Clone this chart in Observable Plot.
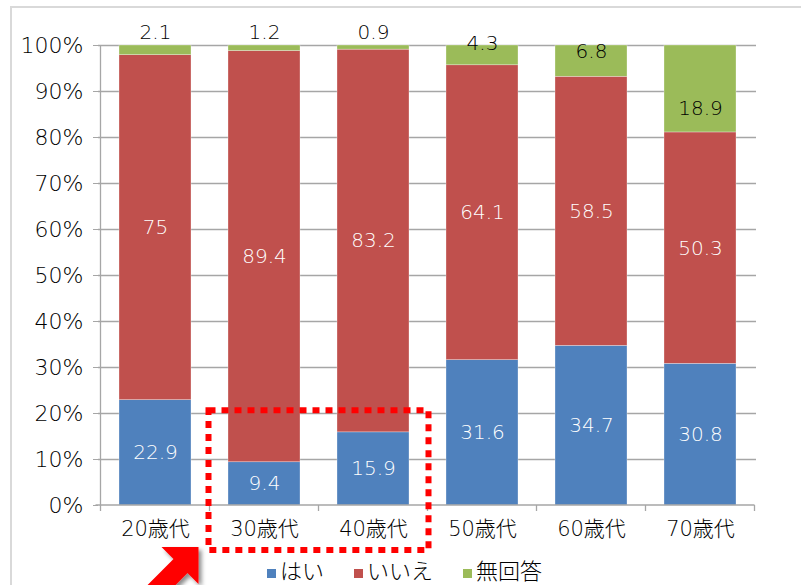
<!DOCTYPE html>
<html>
<head>
<meta charset="utf-8">
<script src="https://cdn.jsdelivr.net/npm/d3@7"></script>
<script src="https://cdn.jsdelivr.net/npm/@observablehq/plot@0.6"></script>
<style>
  body { margin: 0; background: #fff; }
  #wrap { position: relative; width: 801px; height: 585px; overflow: hidden; font-family: "DejaVu Sans", "Noto Sans CJK JP", sans-serif; font-weight: 300; }
  #frame { position: absolute; left: 10px; top: 6px; width: 820px; height: 620px; border-top: 2px solid #d9d9d9; border-left: 2px solid #d9d9d9; pointer-events: none; }
  #legend { position: absolute; left: 4px; width: 801px; top: 553px; text-align: center; font-size: 22px; color: #000; white-space: nowrap; }
  #legend span.item { display: inline-block; margin: 0 15px; }
  #legend span.sw { display: inline-block; width: 9px; height: 9px; margin-right: 4px; vertical-align: 1px; }
  #chart { position: absolute; left: 0; top: 0; }
  #chart svg text { font-weight: 300; }
</style>
</head>
<body>
<div id="wrap">
  <div id="frame"></div>
  <div id="chart"></div>
  <div id="legend"></div>
</div>
<script>
const categories = ["20歳代", "30歳代", "40歳代", "50歳代", "60歳代", "70歳代"];
const hai = [22.9, 9.4, 15.9, 31.6, 34.7, 30.8];
const iie = [75, 89.4, 83.2, 64.1, 58.5, 50.3];
const mukaitou = [2.1, 1.2, 0.9, 4.3, 6.8, 18.9];
const seriesNames = ["はい", "いいえ", "無回答"];
const seriesColors = ["#4F81BD", "#C0504D", "#9BBB59"];
const yTicks = [0, 10, 20, 30, 40, 50, 60, 70, 80, 90, 100];

const seriesValues = [hai, iie, mukaitou];
const rows = [];
categories.forEach((cat, i) => {
  let base = 0;
  seriesValues.forEach((vals, s) => {
    const v = vals[i];
    rows.push({cat, series: seriesNames[s], value: v, s, y1: base, y2: base + v});
    base += v;
  });
});

function labelY(d) {
  if (d.s < 2) return (d.y1 + d.y2) / 2;
  if (d.value < 3) return 102.8;
  if (d.value < 5) return 100.4;
  if (d.value < 10) return 100 - d.value * 0.2;
  return 100 - d.value * 0.72;
}

const FONT = '"DejaVu Sans", "Noto Sans CJK JP", sans-serif';

const plot = Plot.plot({
  width: 801,
  height: 585,
  marginLeft: 98,
  marginRight: 45,
  marginTop: 45,
  marginBottom: 80,
  style: {fontFamily: FONT, background: "transparent", overflow: "visible"},
  x: {domain: categories, paddingInner: 0.34, paddingOuter: 0.17, label: null},
  y: {domain: [0, 100], label: null},
  color: {domain: seriesNames, range: seriesColors},
  marks: [
    Plot.ruleY(yTicks.filter(t => t > 0), {stroke: "#a6a6a6", strokeWidth: 1.3}),
    Plot.barY(rows, {x: "cat", y1: "y1", y2: "y2", fill: "series", stroke: "#ffffff", strokeOpacity: 0.5, strokeWidth: 0.6}),
    Plot.axisY({ticks: yTicks, tickFormat: d => d + "%", tickSize: 5, tickPadding: 10, fontSize: 22, stroke: "#a6a6a6", color: "#000"}),
    Plot.axisX({tickSize: 0, tickPadding: 16, fontSize: 21, color: "#000"}),
    Plot.text(rows, {
      x: "cat", y: labelY, text: d => String(d.value),
      fill: d => d.s < 2 ? "#ffffff" : "#000000",
      fontSize: 20
    })
  ]
});

document.getElementById("chart").appendChild(plot);

// axes lines and annotations using the plot's own scales
const xs = plot.scale("x");
const ys = plot.scale("y");
const svg = d3.select(plot);
const gap = (xs.step - xs.bandwidth) / 2;
const bounds = categories.map(c => xs.apply(c) - gap);
bounds.push(xs.apply(categories[categories.length - 1]) + xs.bandwidth + gap);
const y0 = ys.apply(0), y100 = ys.apply(100);
const g = svg.append("g");
g.append("line").attr("x1", bounds[0]).attr("x2", bounds[0]).attr("y1", y100).attr("y2", y0 + 1)
  .attr("stroke", "#a6a6a6").attr("stroke-width", 1.3);
g.append("line").attr("x1", bounds[0] - 5).attr("x2", bounds[bounds.length - 1]).attr("y1", y0).attr("y2", y0)
  .attr("stroke", "#a6a6a6").attr("stroke-width", 1.3);
bounds.forEach(b => g.append("line").attr("x1", b).attr("x2", b).attr("y1", y0).attr("y2", y0 + 6)
  .attr("stroke", "#a6a6a6").attr("stroke-width", 1.3));

// red dotted highlight around 30歳代–40歳代
const rx1 = xs.apply("30歳代") - gap - 1;
const rx2 = xs.apply("40歳代") + xs.bandwidth + gap + 1;
const ry1 = ys.apply(20.6);
const ry2 = ys.apply(-9.8);
g.append("rect").attr("x", rx1).attr("y", ry1).attr("width", rx2 - rx1).attr("height", ry2 - ry1)
  .attr("fill", "none").attr("stroke", "#ff0000").attr("stroke-width", 6).attr("stroke-dasharray", "7 6");

// red block arrow (bottom-left), pointing up-right
const defs = svg.append("defs");
const f = defs.append("filter").attr("id", "shadow").attr("x", "-20%").attr("y", "-20%").attr("width", "160%").attr("height", "160%");
f.append("feDropShadow").attr("dx", 3).attr("dy", 3).attr("stdDeviation", 2).attr("flood-color", "#000").attr("flood-opacity", 0.45);
const ax = rx1 - 10, ay = ry2 - 3;
const pts = [[0, 0], [-37, 0], [-25, 12], [-57, 44], [-43, 58], [-11, 26], [0, 37]].map(([dx, dy]) => [ax + dx, ay + dy]);
g.append("polygon").attr("points", pts.map(p => p.join(",")).join(" ")).attr("fill", "#ff0000").attr("filter", "url(#shadow)");

// legend
const legend = document.getElementById("legend");
seriesNames.forEach((name, i) => {
  const item = document.createElement("span");
  item.className = "item";
  item.innerHTML = `<span class="sw" style="background:${seriesColors[i]}"></span>${name}`;
  legend.appendChild(item);
});
</script>
</body>
</html>
